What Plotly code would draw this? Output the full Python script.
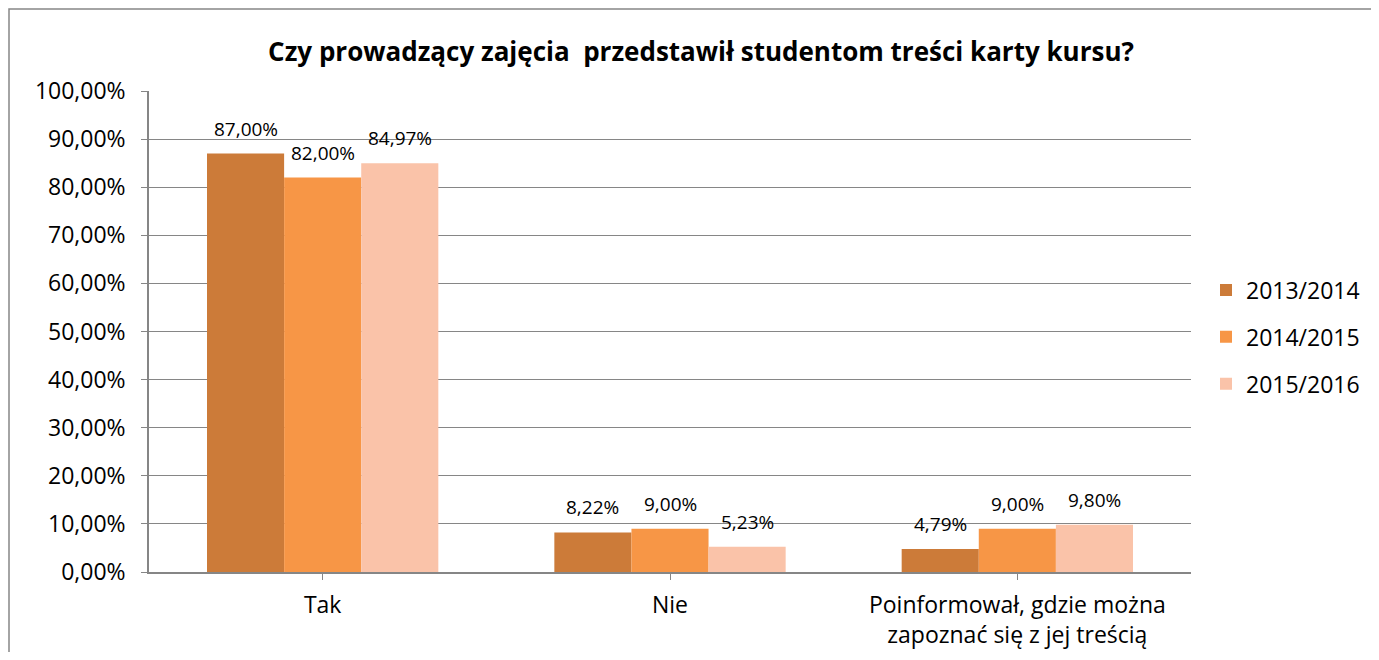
import plotly.graph_objects as go

categories = ["Tak", "Nie", "Poinformował, gdzie można<br>zapoznać się z jej treścią"]
series_names = ["2013/2014", "2014/2015", "2015/2016"]
values_2013 = [87.00, 8.22, 4.79]
values_2014 = [82.00, 9.00, 9.00]
values_2015 = [84.97, 5.23, 9.80]
colors = ["#CC7B39", "#F79646", "#FAC3A9"]
title_text = "Czy prowadzący zajęcia  przedstawił studentom treści karty kursu?"

all_values = [values_2013, values_2014, values_2015]
FONT = "Open Sans"
bargap = 0.334

# figure is placed at (8,8) in the page by default body margin
W, H = 1363, 644
L, R, T, B = 141, 180, 83, 80
PW, PH = W - L - R, H - T - B

fig = go.Figure()
for j, (name, vals, col) in enumerate(zip(series_names, all_values, colors)):
    fig.add_trace(go.Bar(
        name=name, x=list(range(len(categories))), y=[v / 100 for v in vals],
        marker=dict(color=col, line=dict(width=0)),
        legendgroup=name,
    ))

w = (1 - bargap) / 3
for j, vals in enumerate(all_values):
    for i, v in enumerate(vals):
        fig.add_annotation(
            x=i + (j - 1) * w, y=v / 100, xref="x", yref="y",
            text=f"{v:.2f}".replace(".", ",") + "%",
            showarrow=False, yanchor="bottom", yshift=10,
            font=dict(family=FONT, size=19, color="#000000"),
        )

fig.add_shape(type="rect", xref="paper", yref="paper",
              x0=(1 - L) / PW, x1=(1375 - L) / PW,
              y0=(T + PH - 660) / PH, y1=(T + PH - 1) / PH,
              line=dict(color="#868686", width=1.5), fillcolor="rgba(0,0,0,0)", layer="below")

fig.update_layout(
    width=W, height=H,
    margin=dict(l=L, r=R, t=T, b=B, autoexpand=False),
    paper_bgcolor="white", plot_bgcolor="white",
    separators=",.",
    barmode="group", bargap=bargap, bargroupgap=0,
    title=dict(text="<b>" + title_text + "</b>", x=693 / W, xanchor="center",
               y=1 - 44 / H, yanchor="middle",
               font=dict(family=FONT, size=26, color="#000000")),
    font=dict(family=FONT, size=23, color="#000000"),
    xaxis=dict(
        tickmode="array", tickvals=list(range(len(categories))), ticktext=categories,
        range=[-0.5, len(categories) - 0.5], automargin=False,
        showgrid=False, showline=True, linecolor="#868686", linewidth=1.5,
        ticks="outside", tickson="boundaries", ticklen=6, tickcolor="#868686",
        ticklabelstandoff=6,
        tickfont=dict(family=FONT, size=23),
    ),
    yaxis=dict(
        range=[0, 1], tickvals=[i / 10 for i in range(11)], tickformat=".2%",
        automargin=False,
        showgrid=True, gridcolor="#868686", gridwidth=1,
        showline=True, linecolor="#868686", linewidth=1.5,
        ticks="outside", ticklen=6, tickcolor="#868686",
        ticklabelstandoff=11,
        tickfont=dict(family=FONT, size=23), zeroline=False,
    ),
    legend=dict(x=(1198 - L) / PW, xanchor="left", y=(T + PH - 329) / PH, yanchor="middle",
                font=dict(family=FONT, size=23), tracegroupgap=14,
                bgcolor="rgba(0,0,0,0)"),
    showlegend=True,
)

fig.write_html("out.html")
